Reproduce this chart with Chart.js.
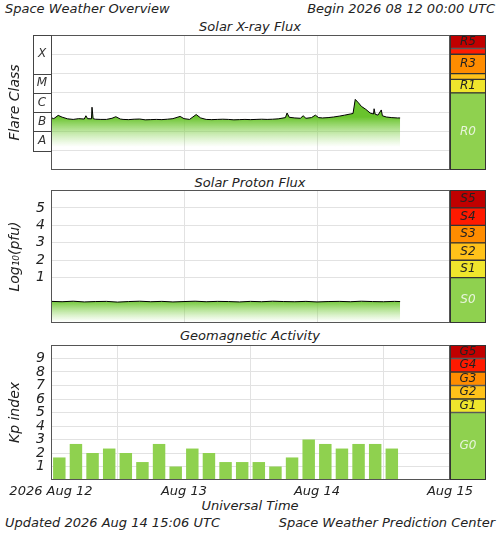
<!DOCTYPE html>
<html><head><meta charset="utf-8">
<script src="https://cdn.jsdelivr.net/npm/chart.js@4"></script>
<style>
body{margin:0;background:#fff;width:500px;height:533px;position:relative;overflow:hidden;font-family:"DejaVu Sans",sans-serif;font-style:italic;color:#222}
canvas{position:absolute}
.t{position:absolute;font-size:13px;white-space:nowrap;line-height:14px}
</style></head><body>
<div class="t" style="left:5px;top:2px">Space Weather Overview</div>
<div class="t" style="right:5px;top:2px">Begin 2026 08 12 00:00 UTC</div>
<div class="t" style="left:0;width:500px;text-align:center;top:20px">Solar X-ray Flux</div>
<div class="t" style="left:0;width:500px;text-align:center;top:176px">Solar Proton Flux</div>
<div class="t" style="left:0;width:500px;text-align:center;top:329px">Geomagnetic Activity</div>
<div class="t" style="left:0;width:500px;text-align:center;top:499px">Universal Time</div>
<div class="t" style="left:5px;top:516px">Updated 2026 Aug 14 15:06 UTC</div>
<div class="t" style="right:5px;top:516px">Space Weather Prediction Center</div>
<canvas id="c1" style="left:0;top:35px" width="500" height="135"></canvas>
<canvas id="s1" style="left:450px;top:35px" width="36" height="135"></canvas>
<canvas id="c2" style="left:0;top:190px" width="500" height="133"></canvas>
<canvas id="s2" style="left:450px;top:190px" width="36" height="133"></canvas>
<canvas id="c3" style="left:0;top:345px" width="500" height="157"></canvas>
<canvas id="s3" style="left:450px;top:345px" width="36" height="135"></canvas>
<script>
// ---- data ----
const xrayHours=[0,0.5,1.3,2,3,4,5,6,6.3,6.6,7.3,7.4,7.6,8,9,10,11,11.7,12.5,13,14,15,16,17,18,19,20,21,22,23.3,24,25,26.2,27,28,29,30,31,32,33,34,35,36,37,38,39,40,41,42.3,42.6,43,44,45,45.5,46,47,47.7,48.3,49,50,51,52,53,54,54.5,54.9,55.5,56,56.8,57.6,58.2,58.3,58.5,59,59.6,59.8,60.5,61.5,62.5,63];
const xrayFlux=[5.2e-7,4.6e-7,6.8e-7,5.5e-7,4.5e-7,4.2e-7,4.6e-7,4.4e-7,6.5e-7,4.6e-7,4.5e-7,1.8e-6,4.6e-7,4.3e-7,4.2e-7,4.2e-7,4.8e-7,5.8e-7,4.4e-7,4.2e-7,4.1e-7,4.3e-7,4.4e-7,4.0e-7,4.1e-7,4.2e-7,4.1e-7,4.3e-7,4.6e-7,6.0e-7,4.6e-7,4.2e-7,7.5e-7,5.0e-7,4.2e-7,4.1e-7,4.2e-7,4.3e-7,4.2e-7,4.0e-7,4.1e-7,4.2e-7,4.1e-7,4.2e-7,4.3e-7,4.2e-7,4.3e-7,4.5e-7,5.2e-7,9.0e-7,5.4e-7,5.0e-7,4.8e-7,6.5e-7,4.8e-7,5.2e-7,7.0e-7,5.2e-7,5.0e-7,5.2e-7,5.6e-7,6.2e-7,7.0e-7,8.0e-7,8.5e-7,4.6e-6,3.0e-6,2.0e-6,1.4e-6,9.0e-7,8.0e-7,1.5e-6,7.8e-7,7.0e-7,1.3e-6,6.5e-7,5.6e-7,5.2e-7,5.0e-7,5.0e-7];
const protonHours=[0,2,4,6,8,10,12,14,16,18,20,22,24,26,28,30,32,34,36,38,40,42,44,46,48,50,52,54,56,58,60,62,63];
const protonLog=[-0.36,-0.38,-0.35,-0.39,-0.37,-0.36,-0.40,-0.37,-0.35,-0.38,-0.36,-0.39,-0.37,-0.35,-0.38,-0.36,-0.37,-0.39,-0.36,-0.38,-0.35,-0.37,-0.38,-0.36,-0.39,-0.37,-0.36,-0.38,-0.35,-0.37,-0.38,-0.36,-0.37];
const kpHours=[1.5,4.5,7.5,10.5,13.5,16.5,19.5,22.5,25.5,28.5,31.5,34.5,37.5,40.5,43.5,46.5,49.5,52.5,55.5,58.5,61.5];
const kpValues=[1.67,2.67,2,2.33,2,1.33,2.67,1,2.33,2,1.33,1.33,1.33,1,1.67,3,2.67,2.33,2.67,2.67,2.33];
const dayLabels={0:'2026 Aug 12',24:'Aug 13',48:'Aug 14',72:'Aug 15'};
const flareClasses=['A','B','C','M','X'];
const flareBounds=[1e-8,1e-7,1e-6,1e-5,1e-4,1e-2];
const rLabels=['R0','R1','R2','R3','R4','R5'];
const rBounds=[1e-9,1e-5,5e-5,1e-4,1e-3,2e-3,1e-2];
const sLabels=['S0','S1','S2','S3','S4','S5'];
const sBounds=[-1.6,1,2,3,4,5,6.03];
const gLabels=['G0','G1','G2','G3','G4','G5'];
const gBounds=[0,5,6,7,8,9,10];
const scaleColors=['#8fd14f','#efe52c','#ffc21a','#ff8c00','#ff1a00','#c00000'];

const FONT={family:'DejaVu Sans',style:'italic',size:13};
const TFONT={family:'DejaVu Sans',style:'italic',size:14};
const GRID='#e2e2e2';
function noPad(s){s.paddingTop=0;s.paddingBottom=0;s.paddingLeft=0;s.paddingRight=0;}
const frame={id:'frame',afterDraw(c){const a=c.chartArea,x=c.ctx;x.save();x.strokeStyle='#555';x.lineWidth=1;x.strokeRect(a.left+0.5,a.top+0.5,a.right-a.left-1,a.bottom-a.top-1);x.restore();}};
function xScale(showTicks){return {type:'linear',min:0,max:72,
  grid:{color:GRID,drawTicks:false},border:{display:false},
  afterBuildTicks:s=>{s.ticks=[0,24,48,72].map(v=>({value:v}));},
  afterFit:s=>{s.height=showTicks?22:0;noPad(s);},
  ticks:{display:showTicks,padding:4,color:'#222',font:FONT,maxRotation:0,autoSkip:false,callback:v=>dayLabels[v]}};}
function fillGrad(top,bot){return ctx=>{const c=ctx.chart,a=c.chartArea;if(!a)return 'rgba(0,0,0,0)';
  const g=c.ctx.createLinearGradient(0,a.top+top,0,a.top+bot);g.addColorStop(0,'rgba(105,195,45,1)');g.addColorStop(1,'rgba(150,220,100,0)');return g;};}
function yFit(s){s.width=51;noPad(s);}
const TITLEPAD={top:7,bottom:0};

// Panel 1
new Chart(document.getElementById('c1'),{type:'line',
 data:{datasets:[{data:xrayHours.map((h,i)=>({x:h,y:xrayFlux[i]})),borderColor:'#000',borderWidth:1,pointRadius:0,fill:'start',backgroundColor:fillGrad(82,112)}]},
 options:{animation:false,responsive:false,plugins:{legend:{display:false},tooltip:{enabled:false}},layout:{padding:{right:50}},
  scales:{x:xScale(false),y:{type:'logarithmic',min:1e-9,max:1e-2,grid:{color:GRID,drawTicks:false},border:{display:false},
   afterBuildTicks:s=>{s.ticks=[1e-8,1e-7,1e-6,1e-5,1e-4,1e-3].map(v=>({value:v}));},
   afterFit:yFit,ticks:{display:false},
   title:{display:true,text:'Flare Class',color:'#222',font:TFONT,padding:TITLEPAD}}}},
 plugins:[frame,{id:'classes',afterDraw(c){const y=c.scales.y,x=c.ctx;x.save();x.strokeStyle='#444';x.fillStyle='#333';x.font='italic 12px "DejaVu Sans"';x.textAlign='center';x.textBaseline='middle';
  flareClasses.forEach((k,i)=>{const y0=y.getPixelForValue(flareBounds[i]),y1=y.getPixelForValue(flareBounds[i+1]);
   x.strokeRect(33.5,Math.round(y1)+0.5,18,Math.round(y0)-Math.round(y1));x.fillText(k,42,(y0+y1)/2);});x.restore();}}]});

// Panel 2
new Chart(document.getElementById('c2'),{type:'line',
 data:{datasets:[{data:protonHours.map((h,i)=>({x:h,y:protonLog[i]})),borderColor:'#000',borderWidth:1,pointRadius:0,fill:'start',backgroundColor:fillGrad(110,132)}]},
 options:{animation:false,responsive:false,plugins:{legend:{display:false},tooltip:{enabled:false}},layout:{padding:{right:50}},
  scales:{x:xScale(false),y:{min:-1.6,max:6.03,grid:{color:GRID,drawTicks:false},border:{display:false},
   afterBuildTicks:s=>{s.ticks=[1,2,3,4,5].map(v=>({value:v}));},
   afterFit:yFit,ticks:{color:'#222',font:TFONT,padding:6,autoSkip:false},
   title:{display:true,text:'Log₁₀(pfu)',color:'#222',font:TFONT,padding:TITLEPAD}}}},
 plugins:[frame]});

// Panel 3
new Chart(document.getElementById('c3'),{type:'bar',
 data:{datasets:[{data:kpHours.map((h,i)=>({x:h,y:kpValues[i]})),backgroundColor:'#8fd14f',barPercentage:0.75,categoryPercentage:1}]},
 options:{animation:false,responsive:false,plugins:{legend:{display:false},tooltip:{enabled:false}},layout:{padding:{right:50}},
  scales:{x:{...xScale(true),offset:false},y:{min:0,max:10,grid:{color:GRID,drawTicks:false},border:{display:false},
   afterBuildTicks:s=>{s.ticks=[1,2,3,4,5,6,7,8,9].map(v=>({value:v}));},
   afterFit:yFit,ticks:{color:'#222',font:TFONT,padding:6,autoSkip:false},
   title:{display:true,text:'Kp index',color:'#222',font:TFONT,padding:TITLEPAD}}}},
 plugins:[frame]});

// Side scales
function side(id,labels,bounds,log){
 const ds=labels.map((l,i)=>({label:l,data:[[bounds[i],bounds[i+1]]],backgroundColor:scaleColors[i],borderColor:'#333',borderWidth:1,borderSkipped:false,barPercentage:1,categoryPercentage:1,grouped:false}));
 new Chart(document.getElementById(id),{type:'bar',data:{labels:[''],datasets:ds},
  options:{animation:false,responsive:false,plugins:{legend:{display:false},tooltip:{enabled:false}},
   scales:{x:{display:false},y:{display:false,type:log?'logarithmic':'linear',min:bounds[0],max:bounds[bounds.length-1]}}},
  plugins:[{id:'lbl',afterDraw(c){const x=c.ctx;x.save();x.font='italic 12px "DejaVu Sans"';x.textAlign='center';x.textBaseline='middle';
   c.data.datasets.forEach((d,i)=>{const el=c.getDatasetMeta(i).data[0];const h=Math.abs(el.base-el.y);if(h<10)return;
    x.fillStyle=i===0?'#e8f5dc':'#222';x.fillText(d.label,el.x,(el.y+el.base)/2);});
   const a=c.chartArea;x.strokeStyle='#333';x.strokeRect(a.left+0.5,a.top+0.5,a.right-a.left-1,a.bottom-a.top-1);x.restore();}}]});
}
side('s1',rLabels,rBounds,true);
side('s2',sLabels,sBounds,false);
side('s3',gLabels,gBounds,false);
</script></body></html>
